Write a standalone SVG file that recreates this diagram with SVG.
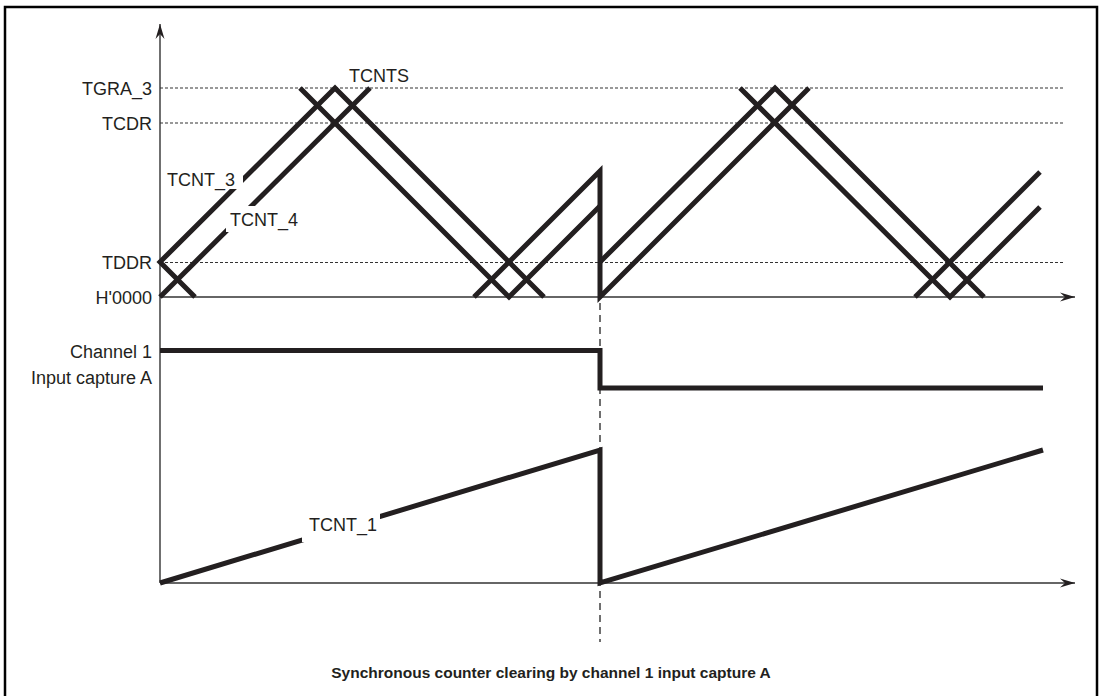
<svg xmlns="http://www.w3.org/2000/svg" width="1102" height="696" viewBox="0 0 1102 696">
<defs>
<style>
.lbl{font-family:"Liberation Sans",Arial,sans-serif;font-size:18px;fill:#231f20}
.cap{font-family:"Liberation Sans",Arial,sans-serif;font-size:15.5px;font-weight:bold;fill:#231f20}
.axis{stroke:#333;stroke-width:1.4;fill:none}
.dot{stroke:#333;stroke-width:1.2;stroke-dasharray:3 2;fill:none}
.dash{stroke:#333;stroke-width:1.4;stroke-dasharray:7 5;fill:none}
.sig{stroke:#231f20;stroke-width:5;fill:none;stroke-linejoin:miter;stroke-linecap:butt}
</style>
<marker id="arr" viewBox="-15 -5 16 10" refX="0" refY="0" markerWidth="16" markerHeight="10" markerUnits="userSpaceOnUse" orient="auto">
<path d="M0,0 L-15,-4.5 L-10,0 L-15,4.5 Z" fill="#231f20"/>
</marker>
</defs>
<rect width="1102" height="696" fill="#fff"/>
<rect id="frame" x="5" y="7" width="1092" height="700" fill="none" stroke="#000" stroke-width="2.5"/>

<g id="grid">
<line class="dot" x1="160" y1="88" x2="1063" y2="88"/>
<line class="dot" x1="160" y1="123" x2="1063" y2="123"/>
<line class="dot" x1="160" y1="262.5" x2="1063" y2="262.5"/>
</g>

<g id="axes">
<line class="axis" x1="160" y1="583" x2="160" y2="24" marker-end="url(#arr)"/>
<line class="axis" x1="160" y1="297" x2="1075" y2="297" marker-end="url(#arr)"/>
<line class="axis" x1="160" y1="583" x2="1075" y2="583" marker-end="url(#arr)"/>
</g>

<g id="connectors">
<line class="dash" x1="600" y1="303" x2="600" y2="642"/>
</g>

<g id="counters">
<polyline class="sig" points="195,297 160,262 335,88 544,297"/>
<polyline class="sig" points="160,297 370,88"/>
<polyline class="sig" points="300,88 509,297 600,206"/>
<polyline class="sig" points="474,297 600,171 600,297 809,88"/>
<polyline class="sig" points="600,262 775,88 984,297"/>
<polyline class="sig" points="740,88 950,297 1040,207"/>
<polyline class="sig" points="915,297 1040,172"/>
</g>

<g id="capture">
<polyline class="sig" points="160,350.5 600,350.5 600,388 1043,388"/>
</g>

<g id="tcnt1">
<polyline class="sig" points="160,583 600,450 600,583 1043,450"/>
</g>

<g id="labels">
<text class="lbl" x="152" y="94.5" text-anchor="end">TGRA_3</text>
<text class="lbl" x="152" y="129.5" text-anchor="end">TCDR</text>
<text class="lbl" x="152" y="269" text-anchor="end">TDDR</text>
<text class="lbl" x="152" y="303.5" text-anchor="end">H'0000</text>
<text class="lbl" x="152" y="358" text-anchor="end">Channel 1</text>
<text class="lbl" x="152" y="384" text-anchor="end">Input capture A</text>
<text class="lbl" x="349" y="82">TCNTS</text>
<g id="lbl-tcnt3">
<rect x="164" y="168" width="79" height="21" fill="#fff"/>
<text class="lbl" x="167" y="186">TCNT_3</text>
</g>
<g id="lbl-tcnt4">
<rect x="226" y="206" width="74" height="26" fill="#fff"/>
<text class="lbl" x="230" y="226">TCNT_4</text>
</g>
<g id="lbl-tcnt1">
<rect x="302" y="512" width="78" height="30" fill="#fff"/>
<text class="lbl" x="309" y="531">TCNT_1</text>
</g>
</g>

<g id="caption">
<text class="cap" x="551" y="678" text-anchor="middle">Synchronous counter clearing by channel 1 input capture A</text>
</g>
</svg>
